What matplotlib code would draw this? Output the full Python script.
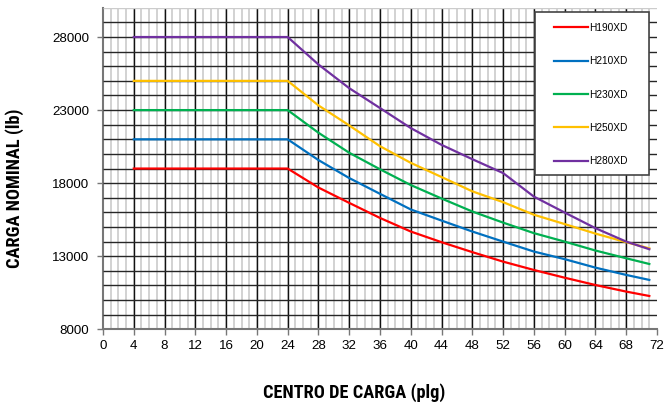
import numpy as np
import matplotlib.pyplot as plt
from matplotlib.patches import Rectangle

# centro de carga (plg)
x = [4, 24, 28, 32, 36, 40, 44, 48, 52, 56, 60, 64, 68, 71]

# carga nominal (lb)
h190 = [19000, 19000, 17700, 16650, 15620, 14690, 13960, 13280, 12630, 12060, 11530, 11030, 10580, 10280]
h210 = [21000, 21000, 19580, 18350, 17270, 16200, 15440, 14690, 14000, 13320, 12800, 12220, 11720, 11380]
h230 = [23000, 23000, 21450, 20080, 18950, 17870, 16950, 16060, 15300, 14580, 14000, 13390, 12860, 12470]
h250 = [25000, 25000, 23320, 21950, 20530, 19390, 18420, 17440, 16700, 15840, 15200, 14550, 13960, 13540]
h280 = [28000, 28000, 26120, 24500, 23140, 21770, 20620, 19640, 18690, 17080, 15990, 14920, 14000, 13480]

names = ["H190XD", "H210XD", "H230XD", "H250XD", "H280XD"]
colors = ["#ff0000", "#0070c0", "#00b050", "#ffc000", "#7030a0"]
series = [h190, h210, h230, h250, h280]

label_font = ["Roboto Condensed", "Roboto"]

fig = plt.figure(figsize=(6.67, 4.12), dpi=100)
ax = fig.add_axes([103/667, 1 - 329.3/412, 554/667, 321.5/412])

ax.set_xlim(0, 72)
ax.set_ylim(8000, 30000)

# grid
ax.vlines(range(1, 72), 8000, 30000, color="#d2d2d2", lw=1.4, zorder=1)
ax.vlines(range(4, 72, 4), 8000, 30000, color="#111111", lw=1.0, zorder=2)
ax.hlines(range(9000, 30000, 1000), 0, 72, color="#262626", lw=1.0, zorder=3)
ax.hlines(30000, 0, 72, color="#cccccc", lw=1.0, zorder=3)

for s, n, c in zip(series, names, colors):
    ax.plot(x, s, color=c, lw=1.6, label=n, zorder=5)

ax.set_xticks(range(0, 73, 4))
ax.set_yticks(range(8000, 30000, 5000))
ax.tick_params(labelsize=9.6, length=4, width=1, color="#777777")
ax.tick_params(axis="x", pad=4)
ax.tick_params(axis="y", pad=6)
for lab in ax.get_xticklabels() + ax.get_yticklabels():
    lab.set_family("Liberation Sans")

for sp in ["top", "right"]:
    ax.spines[sp].set_visible(False)
for sp in ["left", "bottom"]:
    ax.spines[sp].set_color("#777777")
    ax.spines[sp].set_linewidth(1.5)

# legend box
ax.add_patch(Rectangle((0.7798, 0.48), 0.2058, 0.507, transform=ax.transAxes,
                       facecolor="white", edgecolor="#444444", lw=1.2, zorder=9))
leg = ax.legend(loc="upper left", bbox_to_anchor=(0.814, 0.953), borderaxespad=0,
                borderpad=0, handlelength=3.4, handletextpad=0.1, labelspacing=2.3,
                frameon=False, prop={"family": "Liberation Sans", "size": 7.3})
leg.set_zorder(10)

fig.text(354/667, 1 - 393/412, "CENTRO DE CARGA (plg)", ha="center", va="center",
         fontsize=13.2, fontweight="bold", fontstretch="condensed", family=label_font)
fig.text(15/667, 1 - 188/412, "CARGA NOMINAL (lb)", ha="center", va="center", rotation=90,
         fontsize=13.2, fontweight="bold", fontstretch="condensed", family=label_font)

fig.savefig("out.png", dpi=100)
